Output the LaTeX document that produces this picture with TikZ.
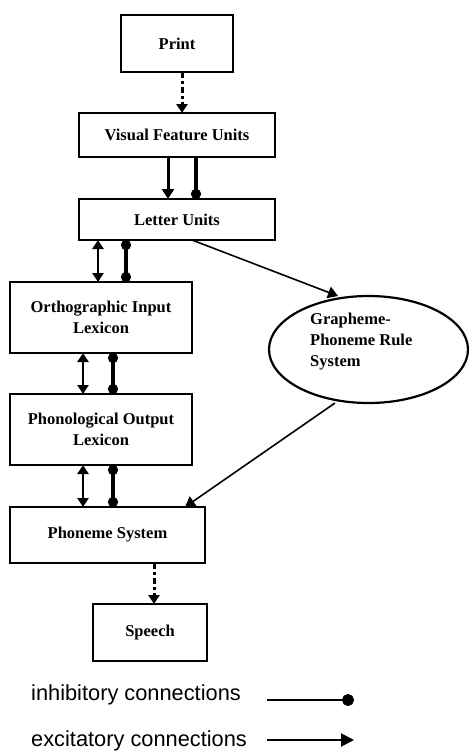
\documentclass[tikz,border=0pt]{standalone}
\usepackage{fontspec}
\setmainfont{Liberation Serif}
\newfontfamily\legendfont{Liberation Sans}
\usetikzlibrary{arrows.meta,shapes.geometric}
\begin{document}
\begin{tikzpicture}[x=1pt,y=-1pt,
  box/.style={draw,line width=2.2pt,outer sep=0pt,inner sep=2pt,align=center,
    font=\fontsize{16.5}{21.5}\selectfont\bfseries},
  exc/.style={line width=3pt,-{Triangle[length=10pt,width=12pt]}},
  bidir/.style={line width=2.6pt,{Triangle[length=9pt,width=11pt]}-{Triangle[length=9pt,width=11pt]}},
  inh/.style={line width=3.5pt,-{Circle[length=10pt]}},
  inhb/.style={line width=3.5pt,{Circle[length=10pt]}-{Circle[length=10pt]}},
  dasharr/.style={line width=3pt,dash pattern=on 6pt off 3pt on 3pt off 3pt,-{Triangle[length=9pt,width=11pt]}},
  thinarr/.style={line width=1.6pt,-{Triangle[length=10pt,width=12pt]}},
  legtext/.style={font=\legendfont\fontsize{21.8}{24}\selectfont,anchor=west,inner sep=0pt}
]
\useasboundingbox (0,0) rectangle (469,755);
\node[box,minimum width=112pt,minimum height=57pt] (print) at (177,43.5) {Print};
\node[box,minimum width=196pt,minimum height=44pt] (vfu) at (177,135) {Visual Feature Units};
\node[box,minimum width=196pt,minimum height=41pt] (lu) at (177,219.5) {Letter Units};
\node[box,minimum width=182pt,minimum height=71pt] (oil) at (101,317.5) {Orthographic Input\\Lexicon};
\node[box,minimum width=182pt,minimum height=71pt] (pol) at (101,429.5) {Phonological Output\\Lexicon};
\node[box,minimum width=195pt,minimum height=56pt] (ps) at (107.5,535) {Phoneme System};
\node[box,minimum width=114pt,minimum height=57pt] (speech) at (150,632.5) {Speech};
\node[draw,ellipse,line width=2.2pt,outer sep=0pt,minimum width=199pt,minimum height=107pt] (gpr) at (368.5,349.5) {};
\node[anchor=west,align=left,font=\fontsize{16.5}{21}\selectfont\bfseries,inner sep=0pt] (gprt) at (310,342) {Grapheme-\\Phoneme Rule\\System};

\draw[dasharr] (print.south -| 182,0) -- (vfu.north -| 182,0);
\draw[exc] (vfu.south -| 168,0) -- (lu.north -| 168,0);
\draw[inh] (vfu.south -| 196,0) -- (lu.north -| 196,0);
\draw[bidir] (lu.south -| 98,0) -- (oil.north -| 98,0);
\draw[inhb] (lu.south -| 126,0) -- (oil.north -| 126,0);
\draw[bidir] (oil.south -| 83,0) -- (pol.north -| 83,0);
\draw[inhb] (oil.south -| 113,0) -- (pol.north -| 113,0);
\draw[bidir] (pol.south -| 83,0) -- (ps.north -| 83,0);
\draw[inhb] (pol.south -| 113,0) -- (ps.north -| 113,0);
\draw[dasharr] (ps.south -| 154,0) -- (speech.north -| 154,0);
\coordinate (lugs) at (lu.south -| 192,0);
\draw[thinarr] (lugs) -- (gpr.north -| 338,0);
\draw[thinarr] (gpr.south -| 335,0) -- (ps.north -| 185,0);

\node[legtext] (inhl) at (31,695) {inhibitory connections};
\node[legtext] (excl) at (31,741) {excitatory connections};
\coordinate (i1) at (267,700);
\coordinate (i2) at (354,700);
\coordinate (e1) at (267,740);
\coordinate (e2) at (354,740);
\draw[line width=2pt,-{Circle[length=12pt]}] (i1) -- (i2);
\draw[line width=2pt,-{Triangle[length=13pt,width=13pt]}] (e1) -- (e2);
\end{tikzpicture}
\end{document}
